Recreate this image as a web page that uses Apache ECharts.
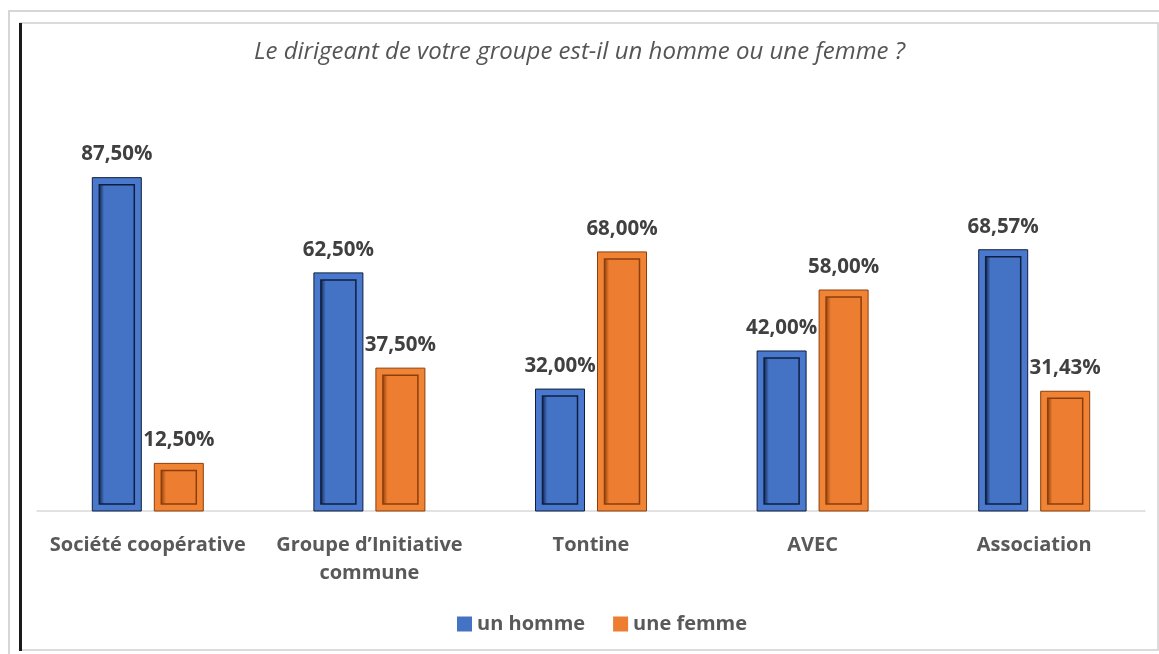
<!DOCTYPE html>
<html>
<head>
<meta charset="utf-8">
<script src="https://cdn.jsdelivr.net/npm/echarts@6/dist/echarts.min.js"></script>
<style>
  html, body { margin: 0; padding: 0; background: #fff; }
  #main { width: 1159px; height: 654px; }
</style>
</head>
<body>
<div id="main"></div>
<script>
// données
var categories = ['Société coopérative', 'Groupe d’Initiative\ncommune', 'Tontine', 'AVEC', 'Association'];
var homme = [87.50, 62.50, 32.00, 42.00, 68.57];
var femme = [12.50, 37.50, 68.00, 58.00, 31.43];
var seriesNames = ['un homme', 'une femme'];

var BAR_W = 49, GAP = 13;
var FONT = '"Open Sans", sans-serif';

function fmt(v) {
    return v.toFixed(2).replace('.', ',') + '%';
}

// barre "biseautée" dessinée à partir des coordonnées des axes
function makeRender(sign, light, fill, dark) {
    return function (params, api) {
        var idx = api.value(0), val = api.value(1);
        var top = api.coord([idx, val]);
        var base = api.coord([idx, 0]);
        var cx = top[0] + sign * (BAR_W + GAP) / 2;
        var x = cx - BAR_W / 2, y = top[1], h = base[1] - top[1];
        var ins = Math.min(7, h / 3);
        return {
            type: 'group',
            children: [{
                type: 'rect',
                shape: { x: x, y: y, width: BAR_W, height: h },
                style: { fill: light, stroke: dark, lineWidth: 1 },
                textContent: {
                    style: { text: fmt(val), fill: '#404040', font: 'bold 20.5px ' + FONT }
                },
                textConfig: { position: 'top', distance: 12 }
            }, {
                type: 'rect',
                shape: { x: x + ins, y: y + ins, width: BAR_W - 2 * ins, height: h - 2 * ins },
                style: {
                    fill: new echarts.graphic.LinearGradient(0, 0, 1, 0, [
                        { offset: 0, color: dark },
                        { offset: 0.15, color: fill },
                        { offset: 1, color: fill }
                    ]),
                    stroke: dark, lineWidth: 1.5
                }
            }]
        };
    };
}

var chart = echarts.init(document.getElementById('main'));

var option = {
    backgroundColor: '#fff',
    animation: false,
    title: {
        text: 'Le dirigeant de votre groupe est-il un homme ou une femme ?',
        left: 'center',
        top: 35,
        textStyle: { fontFamily: FONT, fontStyle: 'italic', fontWeight: 'normal', fontSize: 24, color: '#555555' }
    },
    legend: {
        bottom: 15,
        left: 452,
        icon: 'rect',
        itemWidth: 15,
        itemHeight: 15,
        itemGap: 28,
        data: seriesNames,
        textStyle: { fontFamily: FONT, fontWeight: 'bold', fontSize: 20, color: '#595959' }
    },
    grid: { left: 37, right: 14, top: 130, bottom: 143, containLabel: false },
    xAxis: {
        type: 'category',
        data: categories,
        axisLine: { lineStyle: { color: '#d9d9d9', width: 1.5 } },
        axisTick: { show: false },
        axisLabel: {
            interval: 0, margin: 20, lineHeight: 28,
            fontFamily: FONT, fontWeight: 'bold', fontSize: 20, color: '#595959'
        }
    },
    yAxis: { type: 'value', min: 0, max: 100, show: false },
    series: [{
        name: seriesNames[0],
        type: 'custom',
        itemStyle: { color: '#4472C4', borderColor: '#1F3864' },
        renderItem: makeRender(-1, '#4A78CC', '#4472C4', '#0E1F40'),
        data: homme.map(function (v, i) { return [i, v]; })
    }, {
        name: seriesNames[1],
        type: 'custom',
        itemStyle: { color: '#ED7D31', borderColor: '#A04A10' },
        renderItem: makeRender(1, '#F08434', '#ED7D31', '#8A3E0C'),
        data: femme.map(function (v, i) { return [i, v]; })
    }],
    graphic: [
        { type: 'rect', shape: { x: 9, y: 11, width: 1170, height: 700 }, style: { fill: null, stroke: '#d6d6d6', lineWidth: 2 }, silent: true },
        { type: 'rect', shape: { x: 20, y: 23, width: 1138, height: 627 }, style: { fill: null, stroke: '#cfcfcf', lineWidth: 1.5 }, silent: true },
        { type: 'line', shape: { x1: 20.5, y1: 23, x2: 20.5, y2: 651 }, style: { stroke: '#1a1a1a', lineWidth: 3 }, silent: true }
    ]
};

chart.setOption(option);
</script>
</body>
</html>
